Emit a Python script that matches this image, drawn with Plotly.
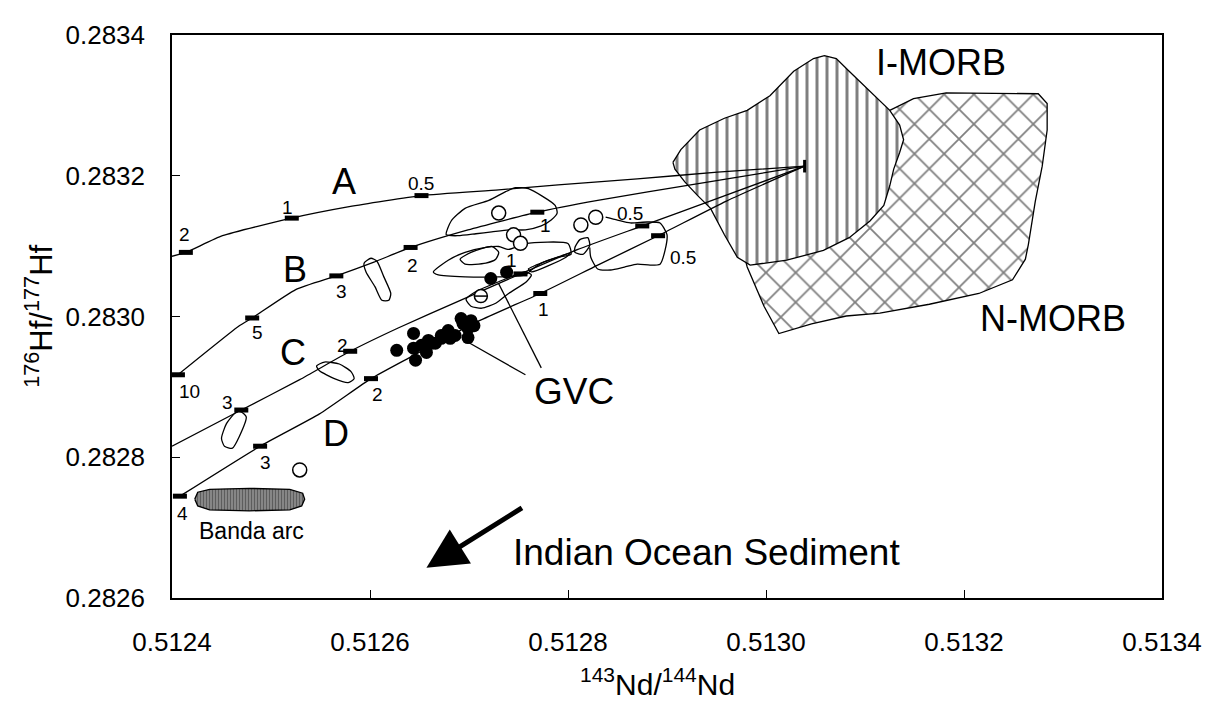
import plotly.graph_objects as go

FONT = "Liberation Sans, Arial, sans-serif"

# ---- mixing curves (143Nd/144Nd, 176Hf/177Hf) ----
curve_A_x = [0.512400, 0.512414, 0.512451, 0.512521, 0.512579, 0.512652, 0.512730, 0.512790, 0.512870, 0.512951, 0.513039]
curve_A_y = [0.2830856, 0.2830911, 0.2831148, 0.2831398, 0.2831560, 0.2831718, 0.2831800, 0.2831871, 0.2831955, 0.2832052, 0.2832136]
curve_B_x = [0.512406, 0.512468, 0.512481, 0.512525, 0.512566, 0.512604, 0.512641, 0.512699, 0.512769, 0.512830, 0.512930, 0.513039]
curve_B_y = [0.2829172, 0.2829868, 0.2829979, 0.2830383, 0.2830577, 0.2830772, 0.2830981, 0.2831231, 0.2831482, 0.2831649, 0.2831885, 0.2832136]
curve_C_x = [0.512400, 0.512470, 0.512529, 0.512580, 0.512629, 0.512689, 0.512752, 0.512810, 0.512875, 0.512951, 0.513039]
curve_C_y = [0.2828157, 0.2828671, 0.2829103, 0.2829506, 0.2829840, 0.2830216, 0.2830605, 0.2830953, 0.2831287, 0.2831677, 0.2832136]
curve_D_x = [0.512408, 0.512489, 0.512549, 0.512601, 0.512639, 0.512710, 0.512772, 0.512830, 0.512891, 0.512960, 0.513039]
curve_D_y = [0.2827447, 0.2828157, 0.2828616, 0.2829117, 0.2829409, 0.2829937, 0.2830327, 0.2830730, 0.2831148, 0.2831640, 0.2832136]

# ---- tick marks on the mixing curves (fraction labels) ----
mark_x = [0.512414, 0.512521, 0.512652,
          0.512406, 0.512481, 0.512566, 0.512641, 0.512769,
          0.512470, 0.512580, 0.512752, 0.512875,
          0.512408, 0.512489, 0.512601, 0.512772, 0.512891]
mark_y = [0.2830911, 0.2831398, 0.2831718,
          0.2829172, 0.2829979, 0.2830577, 0.2830981, 0.2831482,
          0.2828671, 0.2829506, 0.2830605, 0.2831287,
          0.2827447, 0.2828157, 0.2829117, 0.2830327, 0.2831148]
mark_text = ["2", "1", "0.5",
             "10", "5", "3", "2", "1",
             "3", "2", "1", "0.5",
             "4", "3", "2", "1", "0.5"]
mark_lab_x = [0.512413, 0.512517, 0.512652,
              0.512418, 0.512486, 0.512571, 0.512643, 0.512777,
              0.512456, 0.512572, 0.512743, 0.512863,
              0.512411, 0.512494, 0.512608, 0.512775, 0.512916]
mark_lab_y = [0.2831162, 0.2831551, 0.2831885,
              0.2828936, 0.2829770, 0.2830355, 0.2830730, 0.2831287,
              0.2828783, 0.2829590, 0.2830800, 0.2831468,
              0.2827197, 0.2827920, 0.2828894, 0.2830104, 0.2830842]

# ---- curve letters ----
curve_names = ["A", "B", "C", "D"]
curve_name_x = [0.512574, 0.512524, 0.512522, 0.512566]
curve_name_y = [0.2831913, 0.2830661, 0.2829492, 0.2828337]

# ---- GVC samples (filled) ----
gvc_x = [0.512627, 0.512644, 0.512644, 0.512646, 0.512652, 0.512657, 0.512659, 0.512666,
         0.512672, 0.512679, 0.512681, 0.512686, 0.512692, 0.512702, 0.512699, 0.512705,
         0.512694, 0.512672, 0.512662, 0.512656, 0.512699, 0.512722, 0.512738]
gvc_y = [0.282952, 0.282976, 0.282955, 0.282938, 0.282959, 0.282949, 0.282966, 0.282962,
         0.282973, 0.282980, 0.282969, 0.282973, 0.282997, 0.282994, 0.282983, 0.282987,
         0.282990, 0.282969, 0.282962, 0.282959, 0.282970, 0.283054, 0.283063]

# ---- other arc samples (open circles) ----
open_x = [0.512730, 0.512745, 0.512752, 0.512813, 0.512828, 0.512529]
open_y = [0.283147, 0.283116, 0.283104, 0.283130, 0.283141, 0.282782]
hatched_x = [0.512712]
hatched_y = [0.283029]

# ---- outlined fields ----
field1_x = [0.512677, 0.512682, 0.512696, 0.512720, 0.512737, 0.512747, 0.512760, 0.512787, 0.512789,
            0.512783, 0.512773, 0.512757, 0.512740, 0.512723, 0.512707, 0.512689, 0.512677]
field1_y = [0.2831162, 0.2831357, 0.2831537, 0.2831649, 0.2831774, 0.2831830, 0.2831816, 0.2831579, 0.2831468,
            0.2831370, 0.2831287, 0.2831231, 0.2831231, 0.2831203, 0.2831176, 0.2831148, 0.2831162]
field2_x = [0.512664, 0.512679, 0.512696, 0.512717, 0.512730, 0.512740, 0.512757, 0.512800, 0.512803,
            0.512790, 0.512773, 0.512763, 0.512757, 0.512730, 0.512696, 0.512669, 0.512664]
field2_y = [0.2830633, 0.2830800, 0.2830911, 0.2830981, 0.2830995, 0.2830953, 0.2831037, 0.2831037, 0.2830883,
            0.2830842, 0.2830758, 0.2830661, 0.2830591, 0.2830563, 0.2830563, 0.2830591, 0.2830633]
field2b_x = [0.512691, 0.512702, 0.512723, 0.512730, 0.512727, 0.512717, 0.512696, 0.512691]
field2b_y = [0.2830814, 0.2830911, 0.2830995, 0.2830911, 0.2830814, 0.2830758, 0.2830744, 0.2830814]
field2c_x = [0.512760, 0.512802, 0.512798, 0.512763, 0.512760]
field2c_y = [0.2830675, 0.2830897, 0.2830842, 0.2830633, 0.2830675]
field4_x = [0.512807, 0.512812, 0.512820, 0.512822, 0.512815, 0.512807, 0.512807]
field4_y = [0.2830981, 0.2831092, 0.2831120, 0.2831009, 0.2830883, 0.2830911, 0.2830981]
field3_x = [0.512838, 0.512850, 0.512863, 0.512880, 0.512893, 0.512900, 0.512898, 0.512893, 0.512883,
            0.512870, 0.512857, 0.512843, 0.512830, 0.512823, 0.512822]
field3_y = [0.2831412, 0.2831370, 0.2831329, 0.2831343, 0.2831329, 0.2831162, 0.2830939, 0.2830744, 0.2830730,
            0.2830744, 0.2830703, 0.2830661, 0.2830675, 0.2830842, 0.2830981]
field5_x = [0.512697, 0.512707, 0.512730, 0.512757, 0.512763, 0.512758, 0.512740, 0.512727, 0.512713, 0.512702, 0.512697]
field5_y = [0.2830243, 0.2830355, 0.2830494, 0.2830633, 0.2830591, 0.2830494, 0.2830327, 0.2830188, 0.2830118, 0.2830146, 0.2830243]
field6_x = [0.512594, 0.512601, 0.512607, 0.512614, 0.512621, 0.512619, 0.512612, 0.512605, 0.512596, 0.512594]
field6_y = [0.2830758, 0.2830828, 0.2830786, 0.2830563, 0.2830327, 0.2830230, 0.2830230, 0.2830424, 0.2830633, 0.2830758]
field7_x = [0.512546, 0.512554, 0.512569, 0.512581, 0.512584, 0.512578, 0.512564, 0.512549, 0.512546]
field7_y = [0.2829297, 0.2829353, 0.2829325, 0.2829214, 0.2829117, 0.2829061, 0.2829117, 0.2829228, 0.2829297]
field8_x = [0.512470, 0.512475, 0.512468, 0.512461, 0.512453, 0.512450, 0.512455, 0.512465, 0.512470]
field8_y = [0.2828643, 0.2828574, 0.2828296, 0.2828129, 0.2828157, 0.2828268, 0.2828477, 0.2828643, 0.2828643]

# ---- Banda arc field ----
banda_x = [0.512423, 0.512426, 0.512438, 0.512478, 0.512519, 0.512532, 0.512534, 0.512531, 0.512519, 0.512478, 0.512438, 0.512426, 0.512423]
banda_y = [0.2827405, 0.2827503, 0.2827544, 0.2827558, 0.2827544, 0.2827489, 0.2827405, 0.2827308, 0.2827252, 0.2827238, 0.2827252, 0.2827308, 0.2827405]

# ---- MORB fields ----
imorb_x = [0.512906, 0.512914, 0.512933, 0.512958, 0.512981, 0.513004, 0.513028, 0.513048, 0.513059, 0.513071,
           0.513084, 0.513105, 0.513125, 0.513135, 0.513139, 0.513135, 0.513129, 0.513125, 0.513119, 0.513105,
           0.513084, 0.513058, 0.513021, 0.512984, 0.512971, 0.512958, 0.512944, 0.512931, 0.512918, 0.512908, 0.512906]
imorb_y = [0.2832191, 0.2832372, 0.2832650, 0.2832817, 0.2832929, 0.2833137, 0.2833485, 0.2833666, 0.2833708, 0.2833666,
           0.2833485, 0.2833207, 0.2832929, 0.2832720, 0.2832511, 0.2832330, 0.2832094, 0.2831857, 0.2831579, 0.2831357,
           0.2831120, 0.2830939, 0.2830800, 0.2830730, 0.2830842, 0.2831162, 0.2831537, 0.2831718, 0.2831913, 0.2832094, 0.2832191]
nmorb_x = [0.513125, 0.513149, 0.513182, 0.513275, 0.513284, 0.513284, 0.513279, 0.513272, 0.513265, 0.513262,
           0.513249, 0.513215, 0.513165, 0.513115, 0.513081, 0.513046, 0.513013, 0.512998, 0.512981, 0.512976,
           0.512991, 0.513031, 0.513081, 0.513112, 0.513125]
nmorb_y = [0.2832929, 0.2833096, 0.2833179, 0.2833165, 0.2833026, 0.2832650, 0.2832136, 0.2831635, 0.2831023, 0.2830814,
           0.2830522, 0.2830327, 0.2830174, 0.2830049, 0.2830007, 0.2829896, 0.2829757, 0.2830146, 0.2830703, 0.2830981,
           0.2831537, 0.2831955, 0.2832372, 0.2832790, 0.2832929]

# ---- MORB end-member ----
morb_end_x = [0.513039]
morb_end_y = [0.2832136]

# ---- GVC leader lines ----
leader1_x = [0.512730, 0.512773]
leader1_y = [0.2830466, 0.2829270]
leader2_x = [0.512696, 0.512757]
leader2_y = [0.2829659, 0.2829172]

# ---- sediment arrow (tail -> head) ----
arrow_tail = (0.512755, 0.2827294)
arrow_head = (0.512657, 0.2826431)

fig = go.Figure()

LW = 1.3
# MORB fields
fig.add_trace(go.Scatter(x=nmorb_x, y=nmorb_y, mode="lines", fill="toself",
                         fillcolor="white",
                         fillpattern=dict(shape="x", size=21, solidity=0.16, fgcolor="black", bgcolor="white"),
                         line=dict(color="black", width=LW), hoverinfo="skip"))
fig.add_trace(go.Scatter(x=imorb_x, y=imorb_y, mode="lines", fill="toself",
                         fillcolor="white",
                         fillpattern=dict(shape="|", size=10, solidity=0.3, fgcolor="black", bgcolor="white"),
                         line=dict(color="black", width=LW), hoverinfo="skip"))

# Banda arc
fig.add_trace(go.Scatter(x=banda_x, y=banda_y, mode="lines", fill="toself",
                         fillcolor="white",
                         fillpattern=dict(shape="|", size=3, solidity=0.55, fgcolor="#222222", bgcolor="#999999"),
                         line=dict(color="black", width=LW), hoverinfo="skip"))

# outlined fields
for fx, fy in [(field1_x, field1_y), (field2_x, field2_y), (field2b_x, field2b_y), (field2c_x, field2c_y),
               (field3_x, field3_y), (field4_x, field4_y), (field5_x, field5_y), (field6_x, field6_y),
               (field7_x, field7_y), (field8_x, field8_y)]:
    fig.add_trace(go.Scatter(x=fx, y=fy, mode="lines", line=dict(color="black", width=LW, shape="spline", smoothing=0.6),
                             hoverinfo="skip"))

# mixing curves
for cx, cy in [(curve_A_x, curve_A_y), (curve_B_x, curve_B_y), (curve_C_x, curve_C_y), (curve_D_x, curve_D_y)]:
    fig.add_trace(go.Scatter(x=cx, y=cy, mode="lines", line=dict(color="black", width=LW, shape="spline", smoothing=0.5),
                             hoverinfo="skip"))

# leader lines
for lx, ly in [(leader1_x, leader1_y), (leader2_x, leader2_y)]:
    fig.add_trace(go.Scatter(x=lx, y=ly, mode="lines", line=dict(color="black", width=LW), hoverinfo="skip"))

# curve tick marks
fig.add_trace(go.Scatter(x=mark_x, y=mark_y, mode="markers",
                         marker=dict(symbol="line-ew", size=10, line=dict(color="black", width=5)),
                         hoverinfo="skip"))
fig.add_trace(go.Scatter(x=morb_end_x, y=morb_end_y, mode="markers",
                         marker=dict(symbol="line-ns", size=9, line=dict(color="black", width=3)),
                         hoverinfo="skip"))

# samples
fig.add_trace(go.Scatter(x=open_x, y=open_y, mode="markers",
                         marker=dict(symbol="circle", size=14, color="white", line=dict(color="black", width=1.5)),
                         hoverinfo="skip"))
fig.add_trace(go.Scatter(x=hatched_x, y=hatched_y, mode="markers",
                         marker=dict(symbol="circle", size=13, color="white", line=dict(color="black", width=1.5)),
                         hoverinfo="skip"))
fig.add_trace(go.Scatter(x=hatched_x, y=hatched_y, mode="markers",
                         marker=dict(symbol="line-ew", size=9, line=dict(color="black", width=1.5)),
                         hoverinfo="skip"))
fig.add_trace(go.Scatter(x=gvc_x, y=gvc_y, mode="markers",
                         marker=dict(symbol="circle", size=13, color="black", line=dict(color="black", width=0)),
                         hoverinfo="skip"))

annotations = []
for t, x, y in zip(mark_text, mark_lab_x, mark_lab_y):
    annotations.append(dict(x=x, y=y, text=t, showarrow=False, xanchor="center", yanchor="middle",
                            font=dict(size=19, color="black", family=FONT)))
for t, x, y in zip(curve_names, curve_name_x, curve_name_y):
    annotations.append(dict(x=x, y=y, text=t, showarrow=False, xanchor="center", yanchor="middle",
                            font=dict(size=36, color="black", family=FONT)))
annotations += [
    dict(x=0.512806, y=0.2828936, text="GVC", showarrow=False, xanchor="center", yanchor="middle",
         font=dict(size=37, color="black", family=FONT)),
    dict(x=0.513177, y=0.2833610, text="I-MORB", showarrow=False, xanchor="center", yanchor="middle",
         font=dict(size=36, color="black", family=FONT)),
    dict(x=0.513290, y=0.2829965, text="N-MORB", showarrow=False, xanchor="center", yanchor="middle",
         font=dict(size=36, color="black", family=FONT)),
    dict(x=0.512742, y=0.2826640, text="Indian Ocean Sediment", showarrow=False, xanchor="left", yanchor="middle",
         font=dict(size=37, color="black", family=FONT)),
    dict(x=0.512480, y=0.2826946, text="Banda arc", showarrow=False, xanchor="center", yanchor="middle",
         font=dict(size=23, color="black", family=FONT)),
    dict(x=arrow_head[0], y=arrow_head[1], ax=arrow_tail[0], ay=arrow_tail[1], axref="x", ayref="y",
         xref="x", yref="y", text="", showarrow=True, arrowhead=2, arrowsize=1.6, arrowwidth=5,
         arrowcolor="black", standoff=0, startstandoff=0),
    dict(x=-0.135, y=0.50, xref="paper", yref="paper", text="<sup>176</sup>Hf/<sup>177</sup>Hf",
         textangle=-90, showarrow=False, xanchor="center", yanchor="middle",
         font=dict(size=31, color="black", family=FONT)),
    dict(x=0.49, y=-0.149, xref="paper", yref="paper", text="<sup>143</sup>Nd/<sup>144</sup>Nd",
         showarrow=False, xanchor="center", yanchor="middle",
         font=dict(size=30, color="black", family=FONT)),
]

# the page body adds an 8 px offset; size the figure so the plot frame lands where the reference has it
fig.update_layout(
    width=1206, height=695,
    margin=dict(l=164, r=47, t=15, b=105),
    paper_bgcolor="white", plot_bgcolor="white",
    showlegend=False,
    annotations=annotations,
    font=dict(family=FONT, color="black"),
)
fig.update_xaxes(range=[0.5124, 0.5134], dtick=0.0002, tick0=0.5124, tickformat=".4f",
                 showgrid=False, zeroline=False, showline=True, linecolor="black", linewidth=1.5, mirror=True,
                 ticks="inside", ticklen=8, tickcolor="black", tickfont=dict(size=26, family=FONT, color="black"),
                 ticklabelstandoff=20)
fig.update_yaxes(range=[0.2826, 0.2834], dtick=0.0002, tick0=0.2826, tickformat=".4f",
                 showgrid=False, zeroline=False, showline=True, linecolor="black", linewidth=1.5, mirror=True,
                 ticks="inside", ticklen=8, tickcolor="black", tickfont=dict(size=26, family=FONT, color="black"),
                 ticklabelstandoff=20)

fig.write_html("out.html")
